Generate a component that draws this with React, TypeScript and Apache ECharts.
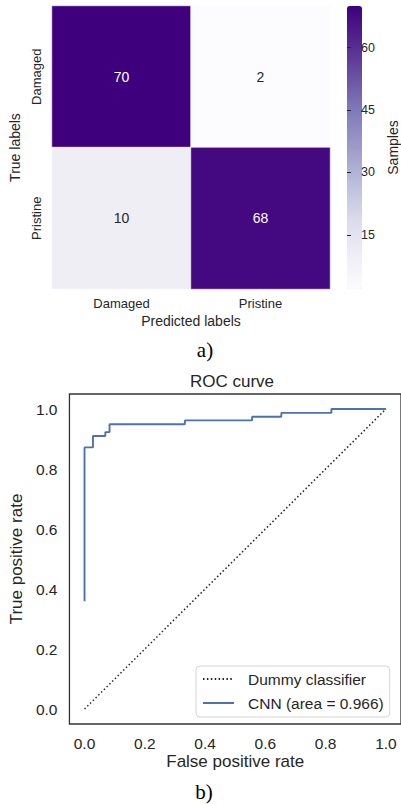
import React, { useEffect, useRef } from "react";
import * as echarts from "echarts";

const classLabels = ["Damaged", "Pristine"];
// [predictedIndex, trueIndex, count]
const confusion: number[][] = [
  [0, 0, 70],
  [1, 0, 2],
  [0, 1, 10],
  [1, 1, 68],
];
const colorbarMin = 2;
const colorbarMax = 70;
const colorbarTicks = [15, 30, 45, 60];
const purples = ["#fcfbfd", "#efedf5", "#dadaeb", "#bcbddc", "#9e9ac8", "#807dba", "#6a51a3", "#54278f", "#3f007d"];

const rocFpr = [0, 0, 0.028, 0.028, 0.069, 0.069, 0.083, 0.083, 0.333, 0.333, 0.556, 0.556, 0.653, 0.653, 0.819, 0.819, 1.0];
const rocTpr = [0.359, 0.872, 0.872, 0.91, 0.91, 0.923, 0.923, 0.949, 0.949, 0.962, 0.962, 0.974, 0.974, 0.987, 0.987, 1.0, 1.0];
const dummyFpr = [0, 1];
const dummyTpr = [0, 1];
const rocTicks = [0, 0.2, 0.4, 0.6, 0.8, 1.0];

const FONT = "Liberation Sans, Arial, sans-serif";
const TXT = "#262626";

export default function App() {
  const ref = useRef<HTMLDivElement>(null);
  useEffect(() => {
    const chart = echarts.init(ref.current!, null, { renderer: "svg" });
    const heatData = confusion.map((d) => ({
      value: d,
      label: { color: d[2] > 36 ? "#ffffff" : TXT },
    }));
    const rocData = rocFpr.map((x, i) => [x, rocTpr[i]]);
    const dummyData = dummyFpr.map((x, i) => [x, dummyTpr[i]]);
    chart.setOption({
      animation: false,
      textStyle: { fontFamily: FONT },
      title: [
        { text: "ROC curve", left: 232, top: 373, textAlign: "center", padding: 0, textStyle: { fontSize: 17, fontWeight: "normal", color: TXT, fontFamily: FONT } },
        { text: "a)", left: 205, top: 339, textAlign: "center", padding: 0, textStyle: { fontSize: 21, fontWeight: "normal", color: "#000", fontFamily: "Liberation Serif, serif" } },
        { text: "b)", left: 204, top: 781, textAlign: "center", padding: 0, textStyle: { fontSize: 21, fontWeight: "normal", color: "#000", fontFamily: "Liberation Serif, serif" } },
      ],
      grid: [
        { left: 52, top: 6, width: 278, height: 283 },
        { left: 347, top: 6, width: 15, height: 283 },
        { left: 62, top: 394, width: 340, height: 330, show: true, borderColor: "#333", borderWidth: 1.3, backgroundColor: "transparent" },
      ],
      xAxis: [
        {
          gridIndex: 0, type: "category", data: classLabels,
          axisLine: { show: false }, axisTick: { show: false }, splitLine: { show: false },
          axisLabel: { fontSize: 13, color: TXT, margin: 8 },
          name: "Predicted labels", nameLocation: "middle", nameGap: 25,
          nameTextStyle: { fontSize: 14, color: TXT },
        },
        { gridIndex: 1, type: "value", show: false },
        {
          gridIndex: 2, type: "value", min: -0.05, max: 1.05,
          axisLine: { show: false }, axisTick: { show: false }, splitLine: { show: false },
          axisLabel: { customValues: rocTicks, formatter: (v: number) => v.toFixed(1), fontSize: 15.5, color: TXT, margin: 11 },
          name: "False positive rate", nameLocation: "middle", nameGap: 29,
          nameTextStyle: { fontSize: 17, color: TXT },
        },
      ],
      yAxis: [
        {
          gridIndex: 0, type: "category", data: classLabels, inverse: true,
          axisLine: { show: false }, axisTick: { show: false }, splitLine: { show: false },
          axisLabel: { fontSize: 13, color: TXT, margin: 9, rotate: 90 },
          name: "True labels", nameLocation: "middle", nameGap: 24,
          nameTextStyle: { fontSize: 14, color: TXT },
        },
        {
          gridIndex: 1, type: "value", min: colorbarMin, max: colorbarMax, position: "right", z: 10,
          axisLine: { show: false }, splitLine: { show: false },
          axisTick: { show: true, customValues: colorbarTicks, length: 4, lineStyle: { color: TXT, width: 1 } },
          axisLabel: { customValues: colorbarTicks, fontSize: 12.5, color: TXT, margin: 8 },
          name: "Samples", nameLocation: "middle", nameGap: 33, nameRotate: 90,
          nameTextStyle: { fontSize: 14, color: TXT },
        },
        {
          gridIndex: 2, type: "value", min: -0.05, max: 1.05,
          axisLine: { show: false }, axisTick: { show: false }, splitLine: { show: false },
          axisLabel: { customValues: rocTicks, formatter: (v: number) => v.toFixed(1), fontSize: 15.5, color: TXT, margin: 12 },
          name: "True positive rate", nameLocation: "middle", nameGap: 38,
          nameTextStyle: { fontSize: 17, color: TXT },
        },
      ],
      visualMap: {
        type: "continuous", seriesIndex: 0, dimension: 2,
        min: colorbarMin, max: colorbarMax, calculable: false,
        left: 347, top: 6, itemWidth: 15, itemHeight: 283, padding: 0, z: 1,
        inRange: { color: purples },
      },
      legend: {
        data: ["Dummy classifier", "CNN (area = 0.966)"],
        orient: "vertical", left: 196, top: 666,
        borderColor: "#d4d4d4", borderWidth: 1, borderRadius: 4, backgroundColor: "#fff",
        padding: [4, 6, 5, 6], itemGap: 6, itemWidth: 31, itemHeight: 14,
        itemStyle: { opacity: 0 },
        textStyle: { fontSize: 15.5, color: TXT, lineHeight: 18, padding: [0, 0, 0, 9] },
      },
      series: [
        {
          type: "heatmap", xAxisIndex: 0, yAxisIndex: 0, data: heatData,
          itemStyle: { borderColor: "#ffffff", borderWidth: 0.6 },
          label: { show: true, fontSize: 14, fontFamily: FONT },
          emphasis: { disabled: true },
        },
        {
          type: "scatter", xAxisIndex: 1, yAxisIndex: 1, data: [], silent: true,
        },
        {
          name: "Dummy classifier", type: "line", xAxisIndex: 2, yAxisIndex: 2,
          data: dummyData, symbol: "none",
          lineStyle: { color: "#262626", width: 1.5, type: [1.5, 2.4] },
          itemStyle: { color: "#262626" },
        },
        {
          name: "CNN (area = 0.966)", type: "line", xAxisIndex: 2, yAxisIndex: 2,
          data: rocData, symbol: "none",
          lineStyle: { color: "#4c72b0", width: 1.9 },
          itemStyle: { color: "#4c72b0" },
        },
      ],
    });
    return () => chart.dispose();
  }, []);
  return <div ref={ref} style={{ position: "absolute", left: 0, top: 0, width: 401, height: 804 }} />;
}
